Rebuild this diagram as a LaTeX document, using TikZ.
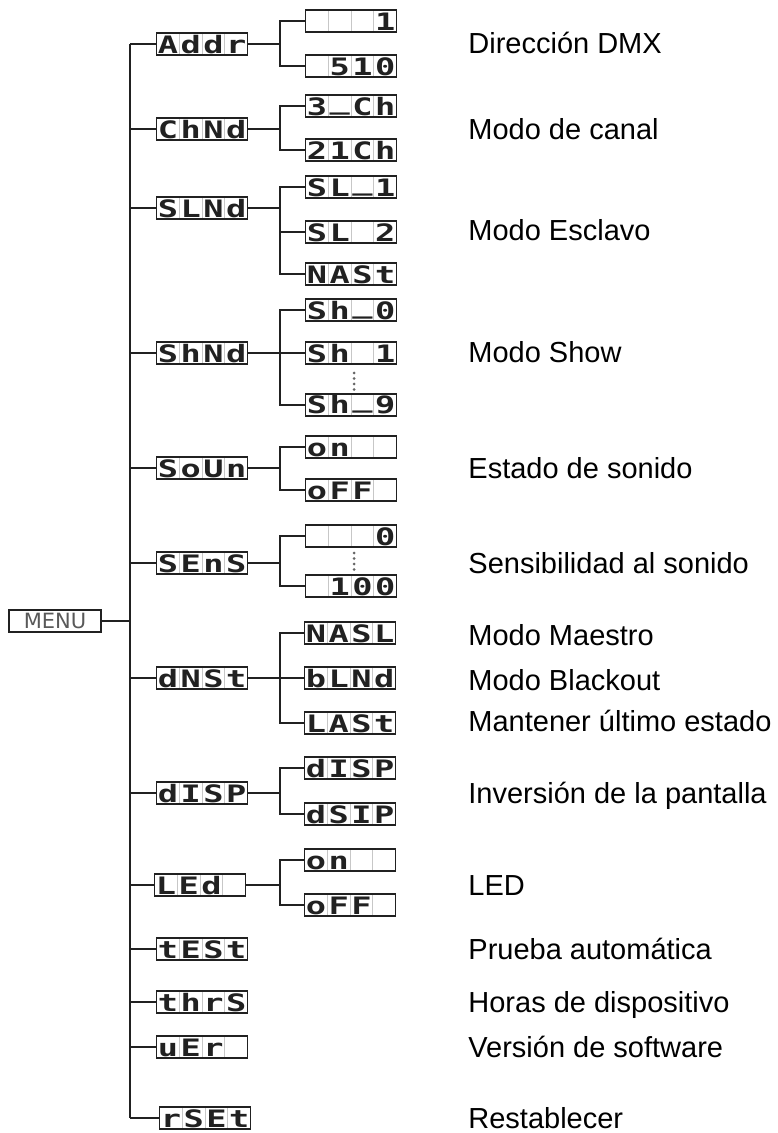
\documentclass[tikz,border=0pt]{standalone}
\usepackage{fontspec}
\setmainfont{Liberation Sans}
\newfontfamily\segfont[FakeStretch=1.4]{DejaVu Sans Mono}
\newfontfamily\menufont{DejaVu Sans}
\usetikzlibrary{calc}
\definecolor{LineClr}{rgb}{0.13,0.13,0.13}
\newlength\cellw
\setlength\cellw{11.375pt}
\newcommand\cells[4]{\rule{0pt}{9.2pt}\makebox[\cellw]{#1}\makebox[\cellw]{#2}\makebox[\cellw]{#3}\makebox[\cellw]{#4}}
\newcommand\us{\raisebox{3pt}{\_}}

\begin{document}
\begin{tikzpicture}[x=0.5pt,y=-0.5pt,
  lcd/.style={draw=LineClr,line width=0.8pt,minimum width=45.5pt,minimum height=11pt,inner sep=0pt,
    text=LineClr,font=\segfont\bfseries\fontsize{12}{12}\selectfont,
    path picture={\foreach \k in {1,2,3}
      \draw[black!22,line width=0.4pt]
        ($(path picture bounding box.north west)!\k/4!(path picture bounding box.north east)$) --
        ($(path picture bounding box.south west)!\k/4!(path picture bounding box.south east)$);}},
  menubox/.style={draw=LineClr,line width=0.8pt,minimum width=46pt,minimum height=11pt,inner sep=0pt,
    text=black!65,font=\menufont\fontsize{10.5}{10.5}\selectfont},
  trunk/.style={line width=1.3pt,LineClr},
  branch/.style={line width=0.75pt,LineClr},
  lbl/.style={anchor=base west,inner sep=0pt,font=\fontsize{14.5}{17}\selectfont}]
\useasboundingbox (0,0) rectangle (777,1133);

\coordinate (tx) at (130,0);
\coordinate (bx) at (280,0);

% root
\node[menubox] (menu) at (55,621) {MENU};

% first level
\node[lcd] (addr) at (202,44) {\cells{A}{d}{d}{r}};
\node[lcd] (chnd) at (202,129) {\cells{C}{h}{N}{d}};
\node[lcd] (slnd) at (202,208) {\cells{S}{L}{N}{d}};
\node[lcd] (shnd) at (202,353) {\cells{S}{h}{N}{d}};
\node[lcd] (soun) at (202,468) {\cells{S}{o}{U}{n}};
\node[lcd] (sens) at (202,563) {\cells{S}{E}{n}{S}};
\node[lcd] (dmst) at (202,678) {\cells{d}{N}{S}{t}};
\node[lcd] (disp) at (202,793) {\cells{d}{I}{S}{P}};
\node[lcd] (led)  at (200,885) {\cells{L}{E}{d}{}};
\node[lcd] (test) at (202,949) {\cells{t}{E}{S}{t}};
\node[lcd] (thrs) at (202,1002) {\cells{t}{h}{r}{S}};
\node[lcd] (ver)  at (202,1047) {\cells{u}{E}{r}{}};
\node[lcd] (rset) at (205,1118) {\cells{r}{S}{E}{t}};

% second level
\node[lcd] (addr1) at (351,21) {\cells{}{}{}{1}};
\node[lcd] (addr2) at (351,66) {\cells{}{5}{1}{0}};
\node[lcd] (chnd1) at (351,106) {\cells{3}{\us}{C}{h}};
\node[lcd] (chnd2) at (351,150) {\cells{2}{1}{C}{h}};
\node[lcd] (slnd1) at (351,187) {\cells{S}{L}{\us}{1}};
\node[lcd] (slnd2) at (351,232) {\cells{S}{L}{}{2}};
\node[lcd] (slnd3) at (351,274) {\cells{N}{A}{S}{t}};
\node[lcd] (shnd1) at (351,310) {\cells{S}{h}{\us}{0}};
\node[lcd] (shnd2) at (351,353) {\cells{S}{h}{}{1}};
\node[lcd] (shnd3) at (351,405) {\cells{S}{h}{\us}{9}};
\node[lcd] (soun1) at (351,447) {\cells{o}{n}{}{}};
\node[lcd] (soun2) at (351,490) {\cells{o}{F}{F}{}};
\node[lcd] (sens1) at (351,536) {\cells{}{}{}{0}};
\node[lcd] (sens2) at (351,586) {\cells{}{1}{0}{0}};
\node[lcd] (dmst1) at (350,633) {\cells{N}{A}{S}{L}};
\node[lcd] (dmst2) at (350,678) {\cells{b}{L}{N}{d}};
\node[lcd] (dmst3) at (350,723) {\cells{L}{A}{S}{t}};
\node[lcd] (disp1) at (350,768) {\cells{d}{I}{S}{P}};
\node[lcd] (disp2) at (350,814) {\cells{d}{S}{I}{P}};
\node[lcd] (led1)  at (350,860) {\cells{o}{n}{}{}};
\node[lcd] (led2)  at (350,905) {\cells{o}{F}{F}{}};

% dots
\foreach \d in {0,1,2,3} \fill[black!60] (354,373+\d*5.5) circle (0.75pt);
\foreach \d in {0,1,2,3} \fill[black!60] (354,553+\d*5.5) circle (0.75pt);

% trunk
\draw[trunk] (addr.west -| tx) -- (rset.west -| tx);
\draw[branch] (menu.east) -- (menu.east -| tx);
\draw[branch] (addr.west) -- (addr.west -| tx);
\draw[branch] (chnd.west) -- (chnd.west -| tx);
\draw[branch] (slnd.west) -- (slnd.west -| tx);
\draw[branch] (shnd.west) -- (shnd.west -| tx);
\draw[branch] (soun.west) -- (soun.west -| tx);
\draw[branch] (sens.west) -- (sens.west -| tx);
\draw[branch] (dmst.west) -- (dmst.west -| tx);
\draw[branch] (disp.west) -- (disp.west -| tx);
\draw[branch] (led.west) -- (led.west -| tx);
\draw[branch] (test.west) -- (test.west -| tx);
\draw[branch] (thrs.west) -- (thrs.west -| tx);
\draw[branch] (ver.west) -- (ver.west -| tx);
\draw[branch] (rset.west) -- (rset.west -| tx);

% branches
\draw[branch] (addr.east) -- (addr.east -| bx);
\draw[branch] (addr1.west) -| (addr.east -| bx) |- (addr2.west);
\draw[branch] (chnd.east) -- (chnd.east -| bx);
\draw[branch] (chnd1.west) -| (chnd.east -| bx) |- (chnd2.west);
\draw[branch] (slnd.east) -- (slnd.east -| bx);
\draw[branch] (slnd1.west) -| (slnd.east -| bx) |- (slnd3.west);
\draw[branch] (slnd2.west) -- (slnd2.west -| bx);
\draw[branch] (shnd.east) -- (shnd2.west);
\draw[branch,line width=1pt] (shnd1.west) -| (shnd.east -| bx) |- (shnd3.west);
\draw[branch] (soun.east) -- (soun.east -| bx);
\draw[branch] (soun1.west) -| (soun.east -| bx) |- (soun2.west);
\draw[branch] (sens.east) -- (sens.east -| bx);
\draw[branch] (sens1.west) -| (sens.east -| bx) |- (sens2.west);
\draw[branch] (dmst.east) -- (dmst2.west);
\draw[branch] (dmst1.west) -| (dmst.east -| bx) |- (dmst3.west);
\draw[branch] (disp.east) -- (disp.east -| bx);
\draw[branch] (disp1.west) -| (disp.east -| bx) |- (disp2.west);
\draw[branch] (led.east) -- (led.east -| bx);
\draw[branch] (led1.west) -| (led.east -| bx) |- (led2.west);

% labels
\node[lbl] (addrlbl) at (468,54) {Dirección DMX};
\node[lbl] (chndlbl) at (468,140) {Modo de canal};
\node[lbl] (slndlbl) at (468,241) {Modo Esclavo};
\node[lbl] (shndlbl) at (468,363) {Modo Show};
\node[lbl] (sounlbl) at (468,478) {Estado de sonido};
\node[lbl] (senslbl) at (468,573) {Sensibilidad al sonido};
\node[lbl] (dmst1lbl) at (468,645) {Modo Maestro};
\node[lbl] (dmst2lbl) at (468,690) {Modo Blackout};
\node[lbl] (dmst3lbl) at (468,731) {Mantener último estado};
\node[lbl] (displbl) at (468,803) {Inversión de la pantalla};
\node[lbl] (ledlbl) at (468,895) {LED};
\node[lbl] (testlbl) at (468,959) {Prueba automática};
\node[lbl] (thrslbl) at (468,1012) {Horas de dispositivo};
\node[lbl] (verlbl) at (468,1057) {Versión de software};
\node[lbl] (rsetlbl) at (468,1128) {Restablecer};

\end{tikzpicture}
\end{document}
